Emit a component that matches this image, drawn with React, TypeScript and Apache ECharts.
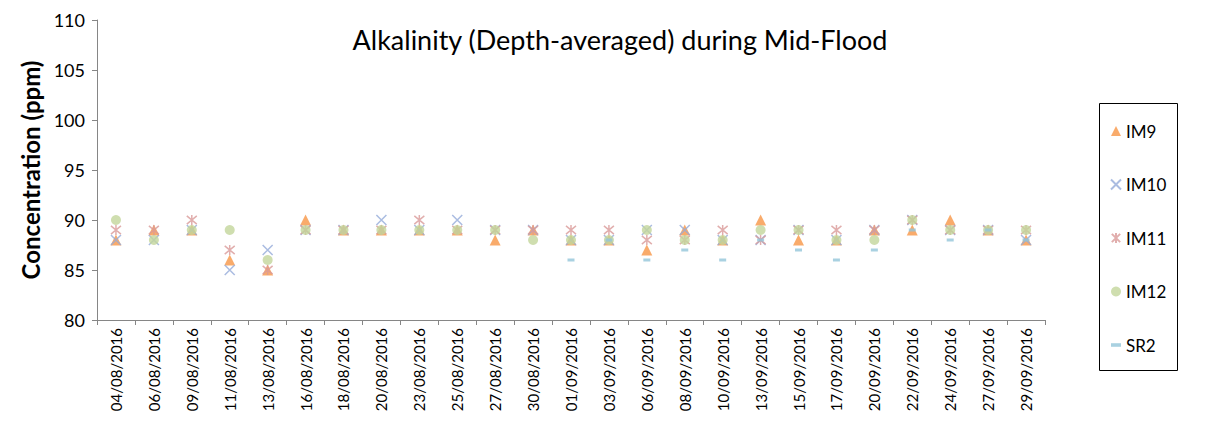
import React, { useEffect, useRef } from "react";
import * as echarts from "echarts";

const categories = [
  "04/08/2016", "06/08/2016", "09/08/2016", "11/08/2016", "13/08/2016",
  "16/08/2016", "18/08/2016", "20/08/2016", "23/08/2016", "25/08/2016",
  "27/08/2016", "30/08/2016", "01/09/2016", "03/09/2016", "06/09/2016",
  "08/09/2016", "10/09/2016", "13/09/2016", "15/09/2016", "17/09/2016",
  "20/09/2016", "22/09/2016", "24/09/2016", "27/09/2016", "29/09/2016",
];

const im9 = [88, 89, 89, 86, 85, 90, 89, 89, 89, 89, 88, 89, 88, 88, 87, 89, 88, 90, 88, 88, 89, 89, 90, 89, 88];
const im10 = [88, 88, 89, 85, 87, 89, 89, 90, 89, 90, 89, 89, 88, 88, 89, 89, 88, 88, 89, 88, 89, 90, 89, 89, 88];
const im11 = [89, 89, 90, 87, 85, 89, 89, 89, 90, 89, 89, 89, 89, 89, 88, 88, 89, 88, 89, 89, 89, 90, 89, 89, 89];
const im12 = [90, 88, 89, 89, 86, 89, 89, 89, 89, 89, 89, 88, 88, 88, 89, 88, 88, 89, 89, 88, 88, 90, 89, 89, 89];
const sr2 = [null, null, null, null, null, null, null, null, null, null, null, null, 86, 88, 86, 87, 86, 88, 87, 86, 87, 89, 88, 89, 88];

const yTicks = { min: 80, max: 110, interval: 5 };

const FONT = "Lato, 'Open Sans', sans-serif";

export default function App() {
  const ref = useRef<HTMLDivElement>(null);
  useEffect(() => {
    if (!ref.current) return;
    const chart = echarts.init(ref.current, null, { renderer: "svg" });
    const xPath = "path://M0 0 L10 10 M10 0 L0 10";
    const starPath = "path://M0 0 L10 10 M10 0 L0 10 M5 -1 L5 11";
    chart.setOption({
      animation: false,
      backgroundColor: "#ffffff",
      title: {
        text: "Alkalinity (Depth-averaged) during Mid-Flood",
        left: 615,
        top: 21,
        textAlign: "center",
        textStyle: { fontFamily: FONT, fontSize: 27, fontWeight: "normal", color: "#000" },
      },
      grid: { left: 97, right: 180, top: 20, bottom: 101, containLabel: false },
      legend: {
        orient: "vertical",
        left: 1105,
        top: 116,
        itemGap: 33.5,
        itemWidth: 10,
        itemHeight: 10,
        textStyle: { fontFamily: FONT, fontSize: 17, color: "#000", lineHeight: 20 },
        data: [
          "IM9",
          "IM10",
          "IM11",
          "IM12",
          { name: "SR2", icon: "path://M0 0 L7 0 L7 2.5 L0 2.5 Z" },
        ],
      },
      xAxis: {
        type: "category",
        data: categories,
        boundaryGap: true,
        axisLine: { lineStyle: { color: "#868686", width: 1 } },
        axisTick: { show: true, alignWithLabel: false, interval: 0, length: 5, lineStyle: { color: "#868686" } },
        axisLabel: { interval: 0, rotate: 90, fontFamily: FONT, fontSize: 15, color: "#000", margin: 8 },
        splitLine: { show: false },
      },
      yAxis: {
        type: "value",
        min: yTicks.min,
        max: yTicks.max,
        interval: yTicks.interval,
        name: "Concentration (ppm)",
        nameLocation: "middle",
        nameGap: 47,
        nameTextStyle: { fontFamily: FONT, fontSize: 24, fontWeight: "bold", color: "#000" },
        axisLine: { show: true, lineStyle: { color: "#868686", width: 1 } },
        axisTick: { show: true, length: 5, lineStyle: { color: "#868686" } },
        axisLabel: { fontFamily: FONT, fontSize: 18, color: "#000", margin: 12 },
        splitLine: { show: false },
      },
      graphic: [
        {
          type: "rect",
          silent: true,
          shape: { x: 1099.5, y: 103.5, width: 78, height: 267 },
          style: { fill: "none", stroke: "#000", lineWidth: 1 },
        },
        {
          type: "line",
          silent: true,
          shape: { x1: 5.5, y1: 0, x2: 5.5, y2: 421 },
          style: { stroke: "#d9d9d9", lineWidth: 1 },
        },
      ],
      series: [
        {
          name: "IM9",
          type: "scatter",
          data: im9,
          symbol: "triangle",
          symbolSize: 11,
          itemStyle: { color: "#F79646" },
        },
        {
          name: "IM10",
          type: "scatter",
          data: im10,
          symbol: xPath,
          symbolSize: 10,
          itemStyle: { color: "rgba(0,0,0,0)", borderColor: "#95ABD9", borderWidth: 1.5 },
        },
        {
          name: "IM11",
          type: "scatter",
          data: im11,
          symbol: starPath,
          symbolSize: 10,
          itemStyle: { color: "rgba(0,0,0,0)", borderColor: "#D99A98", borderWidth: 1.5 },
        },
        {
          name: "IM12",
          type: "scatter",
          data: im12,
          symbol: "circle",
          symbolSize: 10,
          itemStyle: { color: "#C3D69B" },
        },
        {
          name: "SR2",
          type: "scatter",
          data: sr2,
          symbol: "rect",
          symbolSize: [7, 3],
          itemStyle: { color: "#93C5DA" },
        },
      ],
    });
    return () => chart.dispose();
  }, []);
  return <div ref={ref} style={{ width: 1225, height: 421, marginLeft: -8, marginTop: -8 }} />;
}
